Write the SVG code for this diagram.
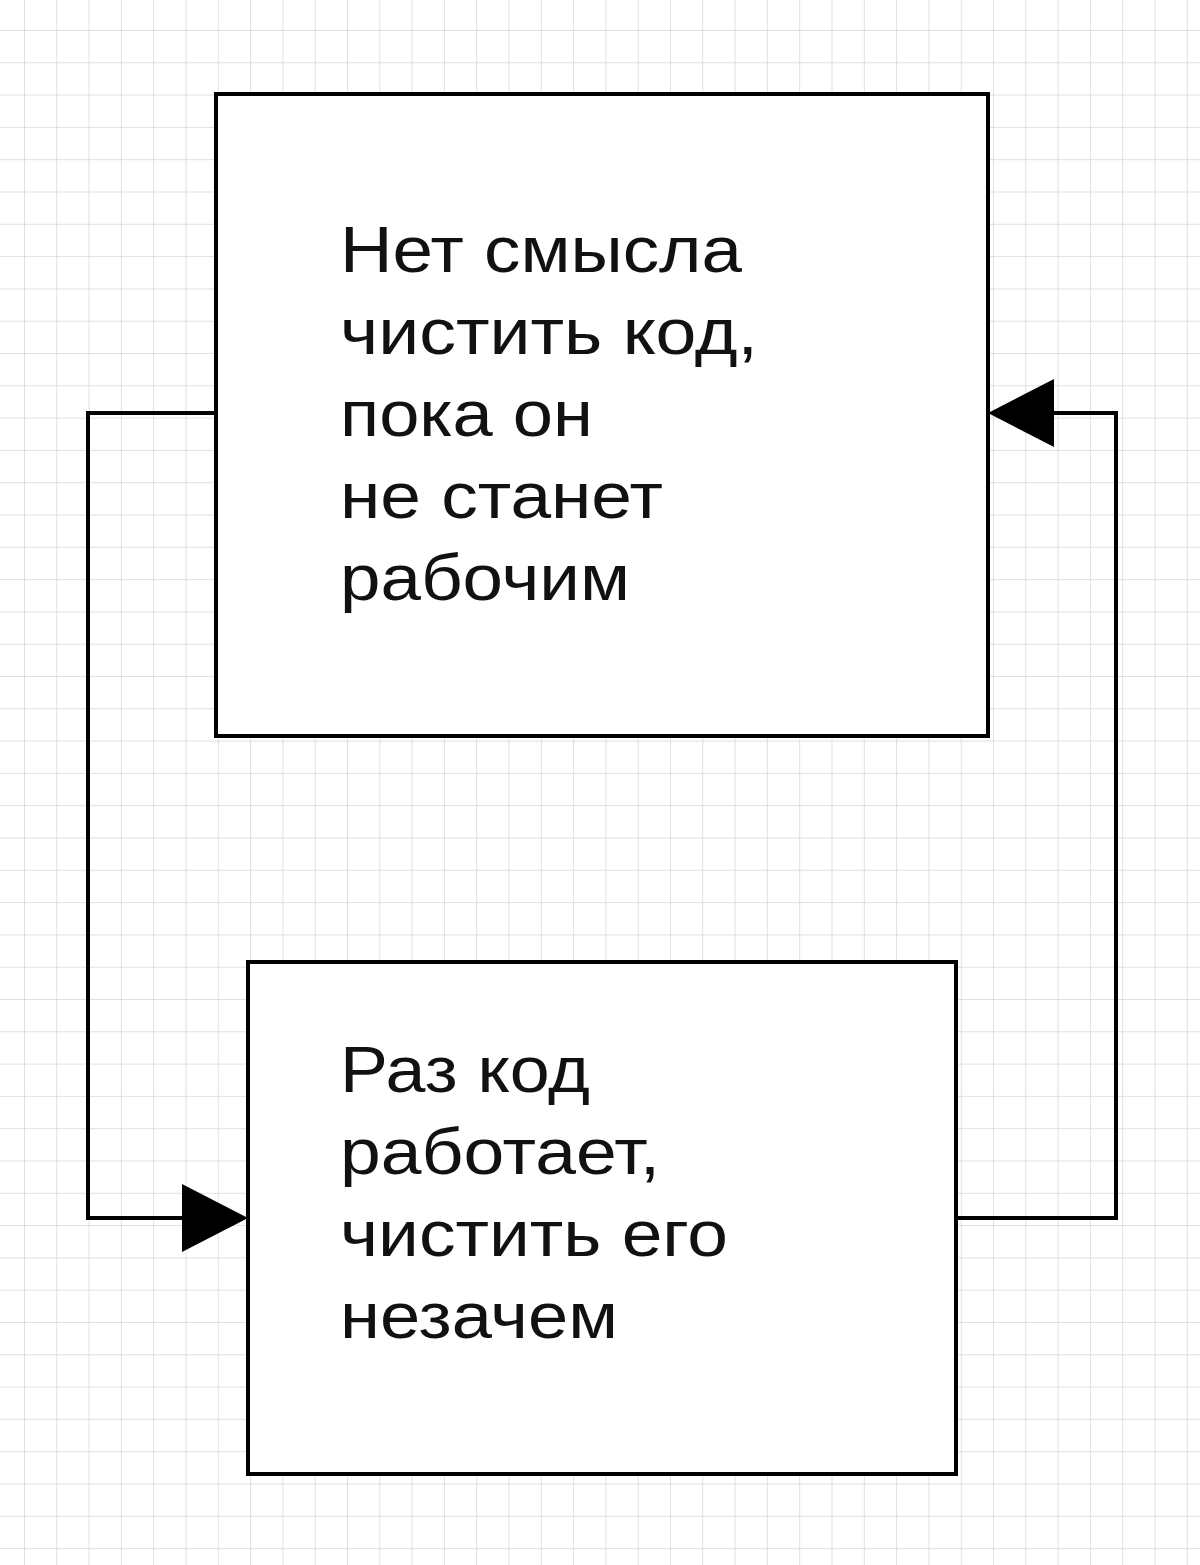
<svg xmlns="http://www.w3.org/2000/svg" width="1200" height="1565" viewBox="0 0 1200 1565">
<defs>
<pattern id="grid" x="24" y="30" width="32.3" height="32.3" patternUnits="userSpaceOnUse">
<path d="M0 0H32.3M0 0V32.3" fill="none" stroke="#d6d6d6" stroke-width="1.5"/>
</pattern>
<style>
.box{fill:#fff;stroke:#000;stroke-width:4}
.t{font-family:"Liberation Sans",Arial,sans-serif;font-size:65px;fill:#111}
.c{fill:none;stroke:#000;stroke-width:4}
</style>
</defs>
<rect width="1200" height="1565" fill="#fff"/>
<rect width="1200" height="1565" fill="url(#grid)"/>
<g id="connectors">
<polyline class="c" points="216,413 88,413 88,1218 200,1218"/>
<polygon points="248,1218 182,1184 182,1252" fill="#000"/>
<polyline class="c" points="956,1218 1116,1218 1116,413 1030,413"/>
<polygon points="988,413 1054,379 1054,447" fill="#000"/>
</g>
<g id="node1">
<rect class="box" x="216" y="94" width="772" height="642"/>
<text class="t" x="340" y="272" textLength="402" lengthAdjust="spacingAndGlyphs">Нет смысла</text>
<text class="t" x="340" y="354" textLength="418" lengthAdjust="spacingAndGlyphs">чистить код,</text>
<text class="t" x="340" y="436" textLength="253" lengthAdjust="spacingAndGlyphs">пока он</text>
<text class="t" x="340" y="518" textLength="323" lengthAdjust="spacingAndGlyphs">не станет</text>
<text class="t" x="340" y="600" textLength="290" lengthAdjust="spacingAndGlyphs">рабочим</text>
</g>
<g id="node2">
<rect class="box" x="248" y="962" width="708" height="512"/>
<text class="t" x="340" y="1092" textLength="250" lengthAdjust="spacingAndGlyphs">Раз код</text>
<text class="t" x="340" y="1174" textLength="320" lengthAdjust="spacingAndGlyphs">работает,</text>
<text class="t" x="340" y="1256" textLength="388" lengthAdjust="spacingAndGlyphs">чистить его</text>
<text class="t" x="340" y="1338" textLength="278" lengthAdjust="spacingAndGlyphs">незачем</text>
</g>
</svg>
